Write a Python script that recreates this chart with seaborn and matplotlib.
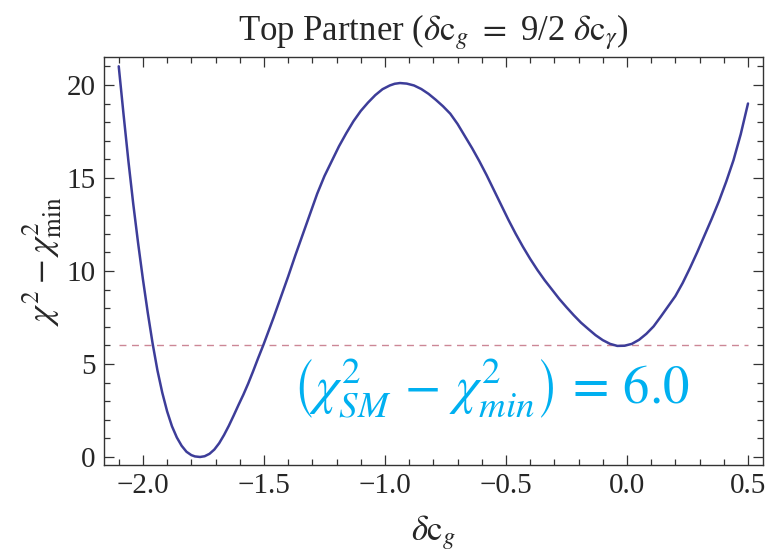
import numpy as np
import pandas as pd
import matplotlib
matplotlib.use("Agg")
import matplotlib.pyplot as plt
import seaborn as sns
from matplotlib.ticker import MultipleLocator, FixedLocator

# ---- data ----
delta_cg = [-2.10, -2.08, -2.06, -2.04, -2.02, -2.00, -1.98, -1.96, -1.94, -1.92,
            -1.90, -1.88, -1.86, -1.84, -1.82, -1.80, -1.785, -1.764, -1.745,
            -1.725, -1.705, -1.685, -1.665, -1.645, -1.625, -1.605, -1.585,
            -1.565, -1.545, -1.525, -1.503, -1.48, -1.46, -1.43, -1.40, -1.37,
            -1.34, -1.31, -1.28, -1.25, -1.22, -1.19, -1.16, -1.13, -1.10,
            -1.07, -1.04, -1.01, -0.98, -0.96, -0.938, -0.91, -0.88, -0.85,
            -0.82, -0.79, -0.76, -0.73, -0.70, -0.67, -0.64, -0.61, -0.58,
            -0.55, -0.52, -0.49, -0.46, -0.43, -0.40, -0.37, -0.34, -0.31,
            -0.28, -0.25, -0.22, -0.19, -0.16, -0.13, -0.10, -0.07, -0.04,
            -0.01, 0.02, 0.05, 0.08, 0.11, 0.14, 0.17, 0.20, 0.23, 0.26, 0.29,
            0.32, 0.35, 0.38, 0.41, 0.44, 0.47, 0.50]
delta_chi2 = [21.0, 18.4, 15.9, 13.6, 11.5, 9.55, 7.75, 6.1, 4.65, 3.45,
              2.45, 1.65, 1.05, 0.6, 0.28, 0.1, 0.03, 0.0, 0.04,
              0.17, 0.4, 0.74, 1.18, 1.68, 2.23, 2.8, 3.35,
              3.95, 4.6, 5.28, 6.0, 6.8, 7.5, 8.6, 9.7, 10.85,
              11.95, 13.05, 14.15, 15.1, 15.9, 16.7, 17.4, 18.05, 18.6,
              19.05, 19.45, 19.77, 19.97, 20.06, 20.1, 20.07, 19.97, 19.78,
              19.52, 19.2, 18.85, 18.45, 17.9, 17.25, 16.6, 15.9, 15.15,
              14.35, 13.55, 12.75, 12.0, 11.3, 10.65, 10.05, 9.5, 9.0,
              8.5, 8.05, 7.62, 7.22, 6.88, 6.55, 6.28, 6.08, 5.97,
              5.98, 6.08, 6.3, 6.62, 7.02, 7.55, 8.1, 8.65, 9.35, 10.15, 11.0,
              11.9, 12.8, 13.75, 14.8, 15.95, 17.35, 19.0]
sm_level_x = [-2.10, 0.50]
sm_level_y = [6.0, 6.0]
x_ticks = [-2.0, -1.5, -1.0, -0.5, 0.0, 0.5]
x_ticklabels = ["\u22122.0", "\u22121.5", "\u22121.0", "\u22120.5", "0.0", "0.5"]
y_ticks = [0, 5, 10, 15, 20]
y_ticklabels = ["0", "5", "10", "15", "20"]

sns.set_style("ticks")
plt.rcParams["font.family"] = ["Liberation Serif", "DejaVu Serif"]
plt.rcParams["mathtext.fontset"] = "stix"

fig = plt.figure(figsize=(7.69, 5.55), dpi=100)
ax = fig.add_axes([0.1352, 0.1622, 0.8570, 0.7351])

curve = pd.DataFrame({"x": delta_cg, "y": delta_chi2})
level = pd.DataFrame({"x": sm_level_x, "y": sm_level_y})

sns.lineplot(data=level, x="x", y="y", ax=ax, color="#cc8796", lw=1.0,
             linestyle=(0, (5, 4)), sort=False, estimator=None)
sns.lineplot(data=curve, x="x", y="y", ax=ax, color="#3d3d99", lw=1.8,
             sort=False, estimator=None)

ax.set_xlim(-2.161, 0.562)
ax.set_ylim(-0.43, 21.5)

ax.xaxis.set_major_locator(FixedLocator(x_ticks))
ax.set_xticklabels(x_ticklabels)
ax.yaxis.set_major_locator(FixedLocator(y_ticks))
ax.set_yticklabels(y_ticklabels)
ax.xaxis.set_minor_locator(MultipleLocator(0.1))
ax.yaxis.set_minor_locator(MultipleLocator(1))

ax.tick_params(which="both", direction="in", top=True, right=True,
               color="#333333", width=0.9)
ax.tick_params(which="major", length=7, labelsize=21, pad=6)
ax.tick_params(which="minor", length=4)
for s in ax.spines.values():
    s.set_visible(True)
    s.set_color("#333333")
    s.set_linewidth(1.0)

ax.set_xlabel(r"$\delta\mathrm{c}_g$", fontsize=25, labelpad=10)
ax.set_ylabel(r"$\chi^2 - \chi^2_{\mathrm{min}}$", fontsize=26, labelpad=2)
ax.set_title(r"Top Partner ($\delta\mathrm{c}_g$ $=$ 9/2 $\delta\mathrm{c}_\gamma$)",
             fontsize=25, pad=12)

ax.text(-1.385, 3.7, r"$\left(\chi^2_{SM}\,-\,\chi^2_{min}\right)\,=\,6.0$",
        color="#00b0f0", fontsize=38, ha="left", va="center")

fig.savefig("out.png", dpi=100)
